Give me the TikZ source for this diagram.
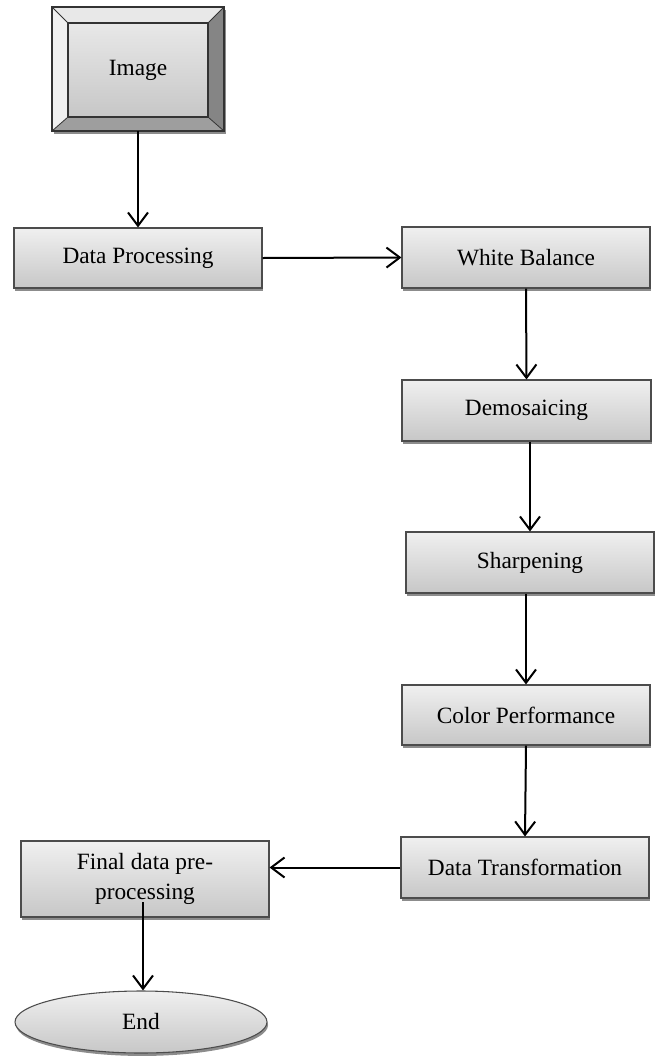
\documentclass[tikz,border=0pt]{standalone}
\usepackage{fontspec}
\setmainfont{Liberation Serif}
\usetikzlibrary{shadows,arrows.meta,shapes.geometric}
\begin{document}
\begin{tikzpicture}[x=0.75pt,y=-0.75pt,
  txt/.style={font=\fontsize{17.5}{22.5}\selectfont},
  proc/.style={txt, rectangle, draw=black!70, line width=0.8pt, top color=black!6, bottom color=black!22, inner sep=0pt, align=center,
    drop shadow={shadow xshift=0.8pt, shadow yshift=-2.6pt, fill=black!45, opacity=1}},
  arr/.style={line width=1.5pt, -{Straight Barb[length=10pt,width=15pt,line width=1.5pt]}}]
\useasboundingbox (0,0) rectangle (658,1057);
% Image bevel box
\node[minimum width=129pt, minimum height=93pt, inner sep=0pt] (image) at (138,69) {};
\fill[black!45] (54,10) rectangle (226,134);
\fill[black!9] (52,7) -- (224,7) -- (208,23) -- (68,23) -- cycle;
\fill[black!6] (52,7) -- (68,23) -- (68,117) -- (52,131) -- cycle;
\fill[black!48] (224,7) -- (224,131) -- (208,117) -- (208,23) -- cycle;
\fill[black!38] (52,131) -- (224,131) -- (208,117) -- (68,117) -- cycle;
\node[txt, draw=black!80, line width=0.8pt, top color=black!9, bottom color=black!22, minimum width=105pt, minimum height=70.5pt, inner sep=0pt] (imgin) at (138,70) {Image};
\draw[black!80, line width=0.8pt] (52,7) rectangle (224,131);
\draw[black!80, line width=0.6pt] (52,7) -- (68,23) (224,7) -- (208,23) (224,131) -- (208,117) (52,131) -- (68,117);
% process boxes
\node[proc, minimum width=186pt, minimum height=45pt] (dp) at (138,258) {Data Processing};
\node[proc, minimum width=186pt, minimum height=45.75pt] (wb) at (526,257.5) {White Balance};
\node[proc, minimum width=186.75pt, minimum height=45.75pt] (dem) at (526.5,410.5) {Demosaicing};
\node[proc, minimum width=186pt, minimum height=45.75pt] (sh) at (530,562.5) {Sharpening};
\node[proc, minimum width=186pt, minimum height=45pt] (cp) at (526,715) {Color Performance};
\node[proc, minimum width=186pt, minimum height=45.75pt] (dt) at (525,867.5) {Data Transformation};
\node[proc, minimum width=186pt, minimum height=57pt] (fin) at (145,879) {Final data pre-\\processing};
\node[txt, ellipse, draw=black!70, line width=0.8pt, top color=black!6, bottom color=black!22, inner sep=0pt, minimum width=189pt, minimum height=46.5pt,
  drop shadow={shadow xshift=0.8pt, shadow yshift=-2.2pt, fill=black!45, opacity=1}] (end) at (141,1022) {End};
% connectors
\coordinate (fs) at (143,902);
\draw[arr] (image.south) -- (dp.north);
\draw[arr] (dp.east) -- (wb.west);
\draw[arr] (wb.south) -- (dem.north);
\draw[arr] (sh.north |- dem.south) -- (sh.north);
\draw[arr] (cp.north |- sh.south) -- (cp.north);
\draw[arr] (cp.south) -- (dt.north);
\draw[arr] (dt.west) -- (dt.west -| fin.east);
\draw[arr] (fs) -- (fs |- end.north);
\end{tikzpicture}
\end{document}
